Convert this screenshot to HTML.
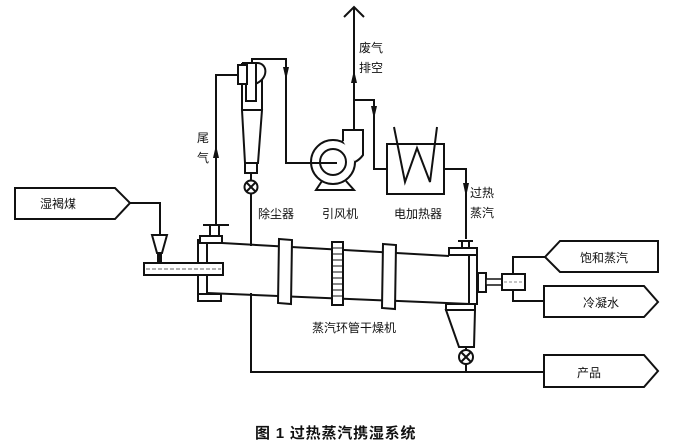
<!DOCTYPE html>
<html><head><meta charset="utf-8"><style>
html,body{margin:0;padding:0;background:#fff;}
svg{display:block;}
text{font-family:"Liberation Sans","Noto Sans CJK SC",sans-serif;fill:#111;font-size:12px;}
</style></head><body>
<svg width="684" height="443" viewBox="0 0 684 443" xmlns="http://www.w3.org/2000/svg">
<g stroke="#111" stroke-width="2" fill="none" stroke-linejoin="miter">
<!-- feed box -->
<polygon points="15,188 115,188 130,203 115,219 15,219" fill="#fff"/>
<polyline points="130,203 160,203 160,235"/>
<!-- funnel -->
<polygon points="152,235 167,235 162,253 157,253" fill="#fff"/>
<rect x="157" y="252" width="5" height="10" fill="#111" stroke="none"/>

<!-- tail gas line -->
<polyline points="216,225 216,75 238,75"/>
<line x1="203" y1="225" x2="229" y2="225"/>
<line x1="210" y1="225" x2="210" y2="237"/>
<line x1="219" y1="225" x2="219" y2="237"/>

<!-- cyclone -->
<polyline points="252,63 252,59 286,59 286,163 337,163"/>
<line x1="242" y1="63" x2="242" y2="110"/>
<line x1="262" y1="80" x2="262" y2="110"/>
<path d="M242,63 L257,63 C268,63 269,79 255,84"/>
<rect x="246" y="63" width="10" height="38" fill="#fff"/>
<rect x="238" y="65" width="9" height="19" fill="#fff"/>
<line x1="242" y1="110" x2="262" y2="110"/>
<polygon points="242,110 262,110 258,163 245,163" fill="#fff"/>
<rect x="245" y="163" width="12" height="10" fill="#fff"/>
<line x1="251" y1="173" x2="251" y2="180"/>
<circle cx="251" cy="187" r="6.5" fill="#fff"/>
<line x1="246.5" y1="182.5" x2="255.5" y2="191.5"/>
<line x1="255.5" y1="182.5" x2="246.5" y2="191.5"/>
<line x1="251" y1="194" x2="251" y2="246"/>
<polyline points="251,293 251,372 544,372"/>

<!-- fan -->
<path d="M343,146 L343,130 L363,130 L363,152" fill="#fff"/>
<circle cx="333" cy="162" r="22" fill="#fff"/>
<path d="M343,141 L343,130 L363,130 L363,155 A22,22 0 0 1 355,162" fill="#fff"/>
<circle cx="333" cy="162" r="13"/>
<line x1="311" y1="163" x2="337" y2="163"/>
<polyline points="322,181 316,190 354,190 346,181"/>
<!-- exhaust -->
<line x1="354" y1="130" x2="354" y2="7"/>
<polyline points="344,17 354,7 364,17"/>
<polyline points="354,100 374,100 374,169 387,169"/>
<!-- heater -->
<rect x="387" y="144" width="57" height="50" fill="#fff"/>
<polyline points="394,127 405,182 417,148 430,182 437,127"/>
<polyline points="444,169 466,169 466,239"/>

<!-- dryer body -->
<line x1="222" y1="243" x2="449" y2="256"/>
<line x1="207" y1="293" x2="470" y2="304"/>
<rect x="198" y="240" width="9" height="57" fill="#fff"/>
<rect x="200" y="236" width="22" height="7" fill="#fff"/>
<rect x="198" y="294" width="23" height="7" fill="#fff"/>
<!-- screw -->
<rect x="144" y="263" width="79" height="12" fill="#fff"/>
<line x1="146" y1="269" x2="221" y2="269" stroke-width="1" stroke="#666" stroke-dasharray="4,2"/>
<!-- rings -->
<polygon points="279,239 292,240 291,304 278,303" fill="#fff"/>
<rect x="332" y="242" width="11" height="63" fill="#fff"/>
<polygon points="383,244 396,245 395,309 382,308" fill="#fff"/>
<!-- right end -->
<rect x="469" y="255" width="8" height="49" fill="#fff"/>
<rect x="449" y="248" width="28" height="7" fill="#fff"/>
<line x1="458" y1="241" x2="473" y2="241"/>
<line x1="462" y1="241" x2="462" y2="248"/>
<line x1="469" y1="241" x2="469" y2="248"/>
<rect x="478" y="273" width="8" height="19" fill="#fff"/>
<rect x="486" y="279" width="16" height="6" fill="#fff" stroke-width="1.5"/>
<rect x="502" y="274" width="23" height="16" fill="#fff"/>
<line x1="504" y1="282" x2="523" y2="282" stroke-width="1" stroke="#888" stroke-dasharray="3,2"/>
<polyline points="513,274 513,257 545,257"/>
<polyline points="513,290 513,301 544,301"/>
<!-- hopper -->
<rect x="446" y="304" width="29" height="6" fill="#fff"/>
<polygon points="446,310 475,310 474,347 459,347" fill="#fff"/>
<circle cx="466" cy="357" r="7" fill="#fff"/>
<line x1="461" y1="352" x2="471" y2="362"/>
<line x1="471" y1="352" x2="461" y2="362"/>
<line x1="466" y1="347" x2="466" y2="350"/>
<line x1="466" y1="364" x2="466" y2="372"/>

<!-- right boxes -->
<polygon points="545,257 560,241 658,241 658,272 560,272" fill="#fff"/>
<polygon points="544,286 644,286 658,302 644,317 544,317" fill="#fff"/>
<polygon points="544,355 644,355 658,371 644,387 544,387" fill="#fff"/>
</g>
<!-- gear hatch -->
<g stroke="#111" stroke-width="1">
<line x1="332" y1="248" x2="343" y2="248"/><line x1="332" y1="254" x2="343" y2="254"/>
<line x1="332" y1="260" x2="343" y2="260"/><line x1="332" y1="266" x2="343" y2="266"/>
<line x1="332" y1="272" x2="343" y2="272"/><line x1="332" y1="278" x2="343" y2="278"/>
<line x1="332" y1="284" x2="343" y2="284"/><line x1="332" y1="290" x2="343" y2="290"/>
<line x1="332" y1="296" x2="343" y2="296"/>
</g>
<!-- arrows -->
<g fill="#111">
<polygon points="213,158 219,158 216,145"/>
<polygon points="283,67 289,67 286,80"/>
<polygon points="351,83 357,83 354,70"/>
<polygon points="371,106 377,106 374,119"/>
<polygon points="463,183 469,183 466,197"/>
</g>
<!-- labels -->
<text x="40" y="208">湿褐煤</text>
<text x="197" y="142">尾</text>
<text x="197" y="162">气</text>
<text x="359" y="52">废气</text>
<text x="359" y="72">排空</text>
<text x="258" y="218">除尘器</text>
<text x="322" y="218">引风机</text>
<text x="394" y="218">电加热器</text>
<text x="470" y="197">过热</text>
<text x="470" y="217">蒸汽</text>
<text x="312" y="332">蒸汽环管干燥机</text>
<text x="580" y="262">饱和蒸汽</text>
<text x="583" y="307">冷凝水</text>
<text x="577" y="377">产品</text>
<text x="255" y="438" style="font-size:15px;font-weight:bold;letter-spacing:0.8px;">图 1  过热蒸汽携湿系统</text>
</svg>
</body></html>
